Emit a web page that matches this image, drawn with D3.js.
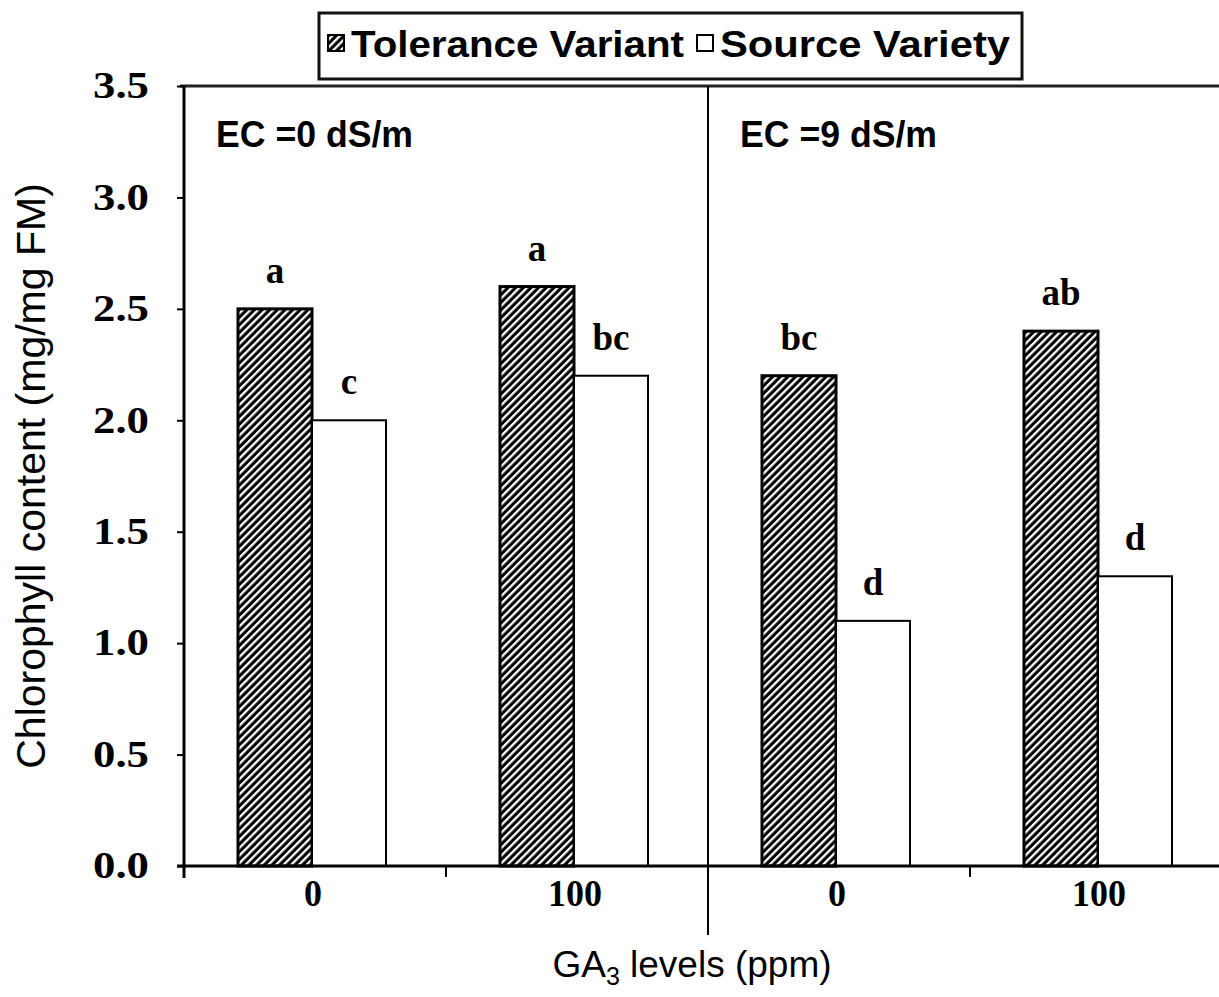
<!DOCTYPE html>
<html>
<head>
<meta charset="utf-8">
<script src="https://cdn.jsdelivr.net/npm/d3@7"></script>
<style>
  body { margin: 0; background: #fff; }
</style>
</head>
<body>
<svg id="canvas" width="1219" height="997"></svg>
<script>
// data
let groups = ['EC0-GA0', 'EC0-GA100', 'EC9-GA0', 'EC9-GA100']
let gaLabels = ['0', '100', '0', '100']
let panels = ['EC =0 dS/m', 'EC =9 dS/m']
let series = ['Tolerance Variant', 'Source Variety']
let tolerance = [2.5, 2.6, 2.2, 2.4]
let source = [2.0, 2.2, 1.1, 1.3]
let toleranceLetters = ['a', 'a', 'bc', 'ab']
let sourceLetters = ['c', 'bc', 'd', 'd']
let yTicks = [0, 0.5, 1.0, 1.5, 2.0, 2.5, 3.0, 3.5]

let canvas = d3.select('#canvas')
let plotLeft = 184, plotRight = 1232, plotTop = 86, plotBottom = 866
let serif = '"Liberation Serif", "Times New Roman", serif'
let sans = '"Liberation Sans", Arial, sans-serif'

let y = d3.scaleLinear().domain([0, 3.5]).range([plotBottom, plotTop])
// bars sit a few px left of the band centres in the original
let x0 = d3.scaleBand().domain(groups).range([plotLeft - 3, plotRight - 3]).paddingInner(0.435).paddingOuter(0.2175)
let x1 = d3.scaleBand().domain(series).range([0, x0.bandwidth()])
let step = x0.step()

// hatch pattern
let defs = canvas.append('defs')
let pat = defs.append('pattern')
    .attr('id', 'hatch')
    .attr('patternUnits', 'userSpaceOnUse')
    .attr('width', 5.4).attr('height', 5.4)
    .attr('patternTransform', 'rotate(45)')
pat.append('rect').attr('width', 5.4).attr('height', 5.4).attr('fill', '#000')
pat.append('rect').attr('x', 0).attr('width', 2.3).attr('height', 5.4).attr('fill', '#fff')

// top frame line
canvas.append('line')
    .attr('x1', plotLeft - 4).attr('x2', 1219).attr('y1', plotTop).attr('y2', plotTop)
    .attr('stroke', '#222').attr('stroke-width', 3)

// bars
let rows = groups.map((g, i) => ({ g: g, values: [
    { s: series[0], v: tolerance[i], letter: toleranceLetters[i] },
    { s: series[1], v: source[i], letter: sourceLetters[i] }
]}))

let grp = canvas.selectAll('g.grp')
    .data(rows)
    .enter()
    .append('g')
    .attr('class', 'grp')
    .attr('transform', d => `translate(${x0(d.g)},0)`)

grp.selectAll('rect')
    .data(d => d.values)
    .enter()
    .append('rect')
    .attr('x', d => x1(d.s))
    .attr('width', x1.bandwidth())
    .attr('y', d => y(d.v))
    .attr('height', d => y(0) - y(d.v))
    .attr('fill', d => d.s === series[0] ? 'url(#hatch)' : '#fff')
    .attr('stroke', '#000')
    .attr('stroke-width', d => d.s === series[0] ? 3 : 2)

grp.selectAll('text')
    .data(d => d.values)
    .enter()
    .append('text')
    .attr('x', d => x1(d.s) + x1.bandwidth() / 2)
    .attr('y', d => y(d.v) - 26)
    .attr('text-anchor', 'middle')
    .attr('font-family', serif)
    .attr('font-weight', 'bold')
    .attr('font-size', 37)
    .text(d => d.letter)

// y axis
let yAxis = canvas.append('g')
    .attr('transform', `translate(${plotLeft},0)`)
    .call(d3.axisLeft(y).tickValues(yTicks).tickFormat(d3.format('.1f')).tickSize(7).tickPadding(28))
yAxis.select('.domain').remove()
yAxis.selectAll('line').attr('stroke', '#000').attr('stroke-width', 2)
yAxis.selectAll('text')
    .attr('font-family', serif)
    .attr('font-weight', 'bold')
    .attr('font-size', 37)
    .attr('fill', '#000')
    .attr('textLength', 56)
    .attr('lengthAdjust', 'spacingAndGlyphs')
canvas.append('line')
    .attr('x1', plotLeft).attr('x2', plotLeft).attr('y1', plotTop).attr('y2', plotBottom + 12)
    .attr('stroke', '#000').attr('stroke-width', 3)

// x axis
canvas.append('line')
    .attr('x1', plotLeft - 7).attr('x2', 1219).attr('y1', plotBottom).attr('y2', plotBottom)
    .attr('stroke', '#000').attr('stroke-width', 3)

groups.forEach((g, i) => {
    if (i === 0) return
    let bx = plotLeft + i * step
    let isPanel = i === 2
    canvas.append('line')
        .attr('x1', bx).attr('x2', bx)
        .attr('y1', isPanel ? plotTop : plotBottom)
        .attr('y2', isPanel ? 935 : plotBottom + 11)
        .attr('stroke', '#000').attr('stroke-width', 2)
})

canvas.selectAll('text.cat')
    .data(groups)
    .enter()
    .append('text')
    .attr('class', 'cat')
    .attr('x', d => x0(d) + x0.bandwidth() / 2 + 1)
    .attr('y', 906)
    .attr('text-anchor', 'middle')
    .attr('font-family', serif)
    .attr('font-weight', 'bold')
    .attr('font-size', 37)
    .attr('textLength', (d, i) => gaLabels[i].length * 18)
    .attr('lengthAdjust', 'spacingAndGlyphs')
    .text((d, i) => gaLabels[i])

// panel labels
canvas.selectAll('text.panel')
    .data(panels)
    .enter()
    .append('text')
    .attr('class', 'panel')
    .attr('x', (d, i) => plotLeft + i * 2 * step + 32)
    .attr('y', 147)
    .attr('font-family', sans)
    .attr('font-weight', 'bold')
    .attr('font-size', 36)
    .attr('textLength', 197)
    .attr('lengthAdjust', 'spacingAndGlyphs')
    .text(d => d)

// axis titles
canvas.append('text')
    .attr('transform', `translate(45,476) rotate(-90)`)
    .attr('text-anchor', 'middle')
    .attr('font-family', sans)
    .attr('font-size', 41)
    .text('Chlorophyll content (mg/mg FM)')

let xt = canvas.append('text')
    .attr('x', 692).attr('y', 977)
    .attr('text-anchor', 'middle')
    .attr('font-family', sans)
    .attr('font-size', 37)
xt.append('tspan').text('GA')
xt.append('tspan').attr('font-size', 25).attr('dy', 8).text('3')
xt.append('tspan').attr('dy', -8).text(' levels (ppm)')

// legend
let legend = canvas.append('g')
legend.append('rect')
    .attr('x', 319).attr('y', 13).attr('width', 703).attr('height', 66)
    .attr('fill', '#fff').attr('stroke', '#111').attr('stroke-width', 3)
let legX = [328, 697]
let legLen = [333, 290]
series.forEach((s, i) => {
    legend.append('rect')
        .attr('x', legX[i]).attr('y', 35).attr('width', 16).attr('height', 16)
        .attr('fill', i === 0 ? 'url(#hatch)' : '#fff')
        .attr('stroke', '#000').attr('stroke-width', 2)
    legend.append('text')
        .attr('x', legX[i] + 23).attr('y', 57)
        .attr('font-family', sans)
        .attr('font-weight', 'bold')
        .attr('font-size', 37)
        .attr('textLength', legLen[i])
        .attr('lengthAdjust', 'spacingAndGlyphs')
        .text(s)
})
</script>
</body>
</html>
